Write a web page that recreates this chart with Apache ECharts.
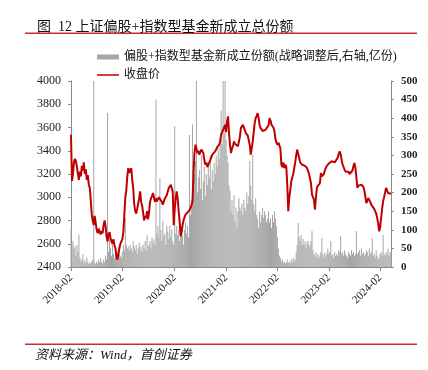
<!DOCTYPE html>
<html>
<head>
<meta charset="utf-8">
<script src="https://cdn.jsdelivr.net/npm/echarts@6/dist/echarts.min.js"></script>
<style>
html,body{margin:0;padding:0;background:#fff;}
#c{width:428px;height:370px;}
</style>
</head>
<body>
<div id="c"></div>
<script>
// Weekly observations, starting week ending 2018-02-02
const startDate = '2018-02-02';
const titleText = '图  12 上证偏股+指数型基金新成立总份额';
const sourceText = '资料来源：Wind，首创证券';
const barName = '偏股+指数型基金新成立份额(战略调整后,右轴,亿份)';
const lineName = '收盘价';
const leftTicks = [2400, 4000, 200];
const rightTicks = [0, 500, 50];

// 收盘价 (left axis)
const closePrice = [
3538,3140,3200,3300,3330,3310,3260,3200,3150,3220,
3180,3270,3230,3300,3200,3240,3150,3190,3110,3080,
2980,2850,2800,2760,2840,2780,2720,2690,2730,2700,
2680,2710,2690,2760,2800,2750,2660,2620,2680,2700,
2650,2620,2600,2640,2590,2560,2490,2463,2520,2560,
2600,2620,2640,2700,2850,3000,3060,3180,3250,3210,
3195,3250,3150,3080,2940,2880,2860,2900,2890,2990,
3050,2960,2930,2870,2800,2840,2820,2880,2810,2870,
2960,2990,3010,3036,3000,2960,2990,2965,2980,3000,
2995,3000,2960,2936,2950,2990,2980,3020,3050,3080,
3090,3108,3080,3050,2760,2900,2990,3050,2990,2880,
2790,2665,2700,2765,2800,2830,2850,2860,2870,2880,
2890,2900,2930,2965,3194,3380,3452,3420,3380,3400,
3366,3380,3410,3423,3380,3320,3280,3300,3260,3252,
3270,3320,3340,3366,3380,3360,3395,3410,3430,3440,
3452,3480,3538,3560,3580,3600,3624,3560,3650,3696,
3550,3452,3380,3420,3440,3481,3460,3470,3450,3438,
3480,3520,3595,3600,3624,3600,3580,3552,3540,3530,
3524,3450,3366,3420,3481,3560,3640,3681,3700,3724,
3680,3620,3595,3580,3570,3566,3566,3580,3595,3595,
3620,3681,3660,3624,3640,3600,3566,3500,3470,3452,
3470,3481,3420,3280,3260,3300,3250,3280,3260,3100,
2880,3000,3060,3137,3150,3200,3250,3300,3360,3410,
3400,3338,3300,3290,3280,3270,3290,3270,3266,3250,
3252,3200,3194,3120,3022,3000,2980,2893,3000,3080,
3100,3108,3120,3208,3180,3165,3200,3230,3252,3270,
3280,3290,3295,3300,3310,3324,3310,3300,3290,3310,
3340,3370,3395,3370,3324,3280,3260,3238,3220,3230,
3208,3220,3200,3190,3194,3230,3270,3295,3250,3165,
3080,3100,3110,3108,3108,3108,3090,3060,3050,2950,
2970,2993,2990,2960,2936,2950,2930,2900,2879,2860,
2822,2780,2707,2740,2822,2900,2965,3000,3040,3080,
3060,3036,3040,3020,3030
];

// 新成立份额 (right axis, 亿份)
const newShares = [
105,60,70,50,55,30,60,40,87,25,
15,20,35,12,18,10,25,15,8,12,
10,15,20,500,12,8,15,10,20,12,
25,15,10,20,12,30,20,414,40,78,
50,30,60,35,25,40,30,20,55,45,
30,25,40,59,45,132,60,50,55,45,
60,50,40,70,55,45,60,35,50,65,
45,55,40,60,50,70,45,86,55,60,
70,50,80,65,75,60,450,90,110,80,
239,100,70,124,85,90,60,110,95,75,
110,80,100,70,60,379,90,110,85,100,
70,95,110,85,60,100,120,90,110,80,
355,140,180,383,220,250,285,500,200,240,
260,210,300,180,230,270,190,250,220,280,
240,300,210,260,230,280,250,300,270,320,
290,340,420,330,500,360,500,341,300,280,
220,204,150,180,140,193,120,160,105,150,
185,160,150,170,140,180,160,150,200,170,
190,285,220,180,302,170,150,185,140,130,
105,150,120,140,159,132,150,140,120,130,
150,120,130,105,140,120,150,130,110,80,
50,30,24,15,20,11,15,10,12,20,
11,15,10,20,12,24,15,20,40,60,
118,80,70,86,60,75,59,70,50,65,
70,60,55,70,97,45,35,30,40,25,
35,24,30,40,78,35,25,40,30,35,
50,35,40,70,30,35,24,40,30,35,
30,45,40,83,35,40,30,45,35,30,
25,40,35,30,45,35,40,30,35,97,
35,40,45,30,50,35,40,30,35,45,
40,30,50,35,40,78,30,35,25,45,
30,20,25,35,40,30,86,35,30,40,
35,50,30,40,35
];

// week dates (categories)
const weeks = [];
(function(){
  const d0 = new Date(startDate + 'T00:00:00Z');
  for (let i = 0; i < closePrice.length; i++) {
    const d = new Date(d0.getTime() + i * 7 * 86400000);
    weeks.push(d.toISOString().slice(0, 10));
  }
})();
function isYearMark(v){
  const m = v.slice(5,7), day = +v.slice(8,10);
  return m === '02' && day <= 7;
}

const serif = '"Liberation Serif","Times New Roman","Noto Sans CJK SC",serif';
const cjk = '"Liberation Serif","Noto Sans CJK SC",serif';
const lineIcon = 'path://M0,0L0.01,0M0,1.7L22,1.7L22,3.3L0,3.3ZM21.99,5L22,5';

const chart = echarts.init(document.getElementById('c'), null, {renderer:'canvas'});
chart.setOption({
  animation: false,
  backgroundColor: '#fff',
  title: {
    text: titleText, left: 32, top: 15,
    textStyle: {fontFamily: cjk, fontSize: 14, fontWeight: 'normal', color: '#111'}
  },
  graphic: [
    {type:'rect', shape:{x:25, y:32.5, width:392, height:1.6}, style:{fill:'#d42a2a'}},
    {type:'rect', shape:{x:25, y:343.5, width:392, height:1.6}, style:{fill:'#d42a2a'}},
    {type:'text', left: 35, top: 349, style:{text: sourceText, font: 'italic 13px "Liberation Serif","Noto Sans CJK SC",serif', fill:'#111'}}
  ],
  legend: {
    orient: 'vertical', left: 92, top: 46,
    itemWidth: 22, itemHeight: 5, itemGap: 6,
    textStyle: {fontFamily: cjk, fontSize: 12, color: '#111', lineHeight: 12},
    data: [{name: barName, icon: 'rect'}, {name: lineName, icon: lineIcon}]
  },
  grid: {left: 71, right: 37, top: 81, bottom: 103},
  xAxis: {
    type: 'category', data: weeks, boundaryGap: false,
    axisLine: {lineStyle: {color: '#888', width: 1}},
    axisTick: {length: 4, interval: (i, v) => isYearMark(v), lineStyle:{color:'#888'}},
    axisLabel: {
      interval: (i, v) => isYearMark(v), rotate: 45, margin: 9,
      formatter: v => v.slice(0,4) + '-02',
      fontFamily: serif, fontSize: 11, color: '#222'
    },
    splitLine: {show: false}
  },
  yAxis: [
    {
      type: 'value', min: leftTicks[0], max: leftTicks[1], interval: leftTicks[2],
      axisLine: {show: true, lineStyle: {color: '#888'}},
      axisTick: {show: true, length: 3, lineStyle: {color: '#888'}},
      axisLabel: {fontFamily: serif, fontSize: 12, color: '#222', margin: 10, formatter: v => String(v)},
      splitLine: {show: false}
    },
    {
      type: 'value', min: rightTicks[0], max: rightTicks[1], interval: rightTicks[2], position: 'right',
      axisLine: {show: true, lineStyle: {color: '#888'}},
      axisTick: {show: true, length: 3, lineStyle: {color: '#888'}},
      axisLabel: {fontFamily: serif, fontSize: 11, fontWeight: 'bold', color: '#222', margin: 10, formatter: v => String(v)},
      splitLine: {show: false}
    }
  ],
  series: [
    {
      name: barName, type: 'bar', yAxisIndex: 1, data: newShares,
      barCategoryGap: '15%', itemStyle: {color: '#a6a6a6'}, z: 1
    },
    {
      name: lineName, type: 'line', yAxisIndex: 0, data: closePrice,
      symbol: 'none', lineStyle: {color: '#c00000', width: 2}, itemStyle:{color:'#c00000'}, z: 3
    }
  ]
});
</script>
</body>
</html>
